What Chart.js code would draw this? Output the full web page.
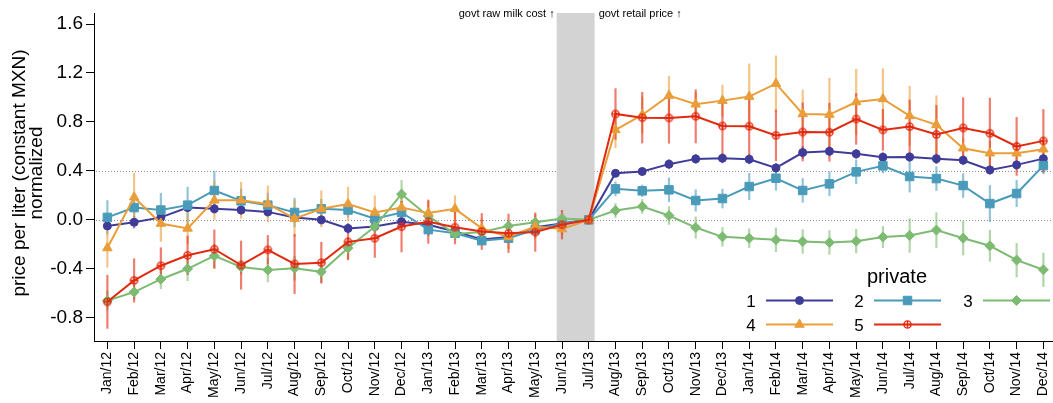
<!DOCTYPE html>
<html>
<head>
<meta charset="utf-8">
<script src="https://cdn.jsdelivr.net/npm/chart.js@4/dist/chart.umd.min.js"></script>
<style>
  html, body { margin: 0; padding: 0; background: #fff; }
  canvas { display: block; }
</style>
</head>
<body>
<canvas id="c" width="1053" height="403"></canvas>
<script>
// Monthly normalized milk price per liter (constant MXN), by private brand
const months = [
  'Jan/12','Feb/12','Mar/12','Apr/12','May/12','Jun/12','Jul/12','Aug/12','Sep/12','Oct/12','Nov/12','Dec/12',
  'Jan/13','Feb/13','Mar/13','Apr/13','May/13','Jun/13','Jul/13','Aug/13','Sep/13','Oct/13','Nov/13','Dec/13',
  'Jan/14','Feb/14','Mar/14','Apr/14','May/14','Jun/14','Jul/14','Aug/14','Sep/14','Oct/14','Nov/14','Dec/14'
];
const yTicks = [-0.8, -0.4, 0.0, 0.4, 0.8, 1.2, 1.6];
const refLines = [0.0, 0.4];
const seriesNames = ['1', '2', '3', '4', '5'];
const legendTitle = 'private';
const yTitle = ['price per liter (constant MXN)', 'normalized'];
const bandLabels = ['govt raw milk cost \u2191', 'govt retail price \u2191'];

const private1 = [-0.05,-0.02,0.02,0.10,0.09,0.08,0.065,0.02,0.00,-0.07,-0.055,-0.015,
  -0.04,-0.095,-0.16,-0.14,-0.06,-0.03,0.0,0.38,0.395,0.455,0.498,0.503,
  0.495,0.424,0.55,0.56,0.539,0.512,0.514,0.50,0.487,0.408,0.449,0.50];
const private2 = [0.02,0.10,0.08,0.12,0.24,0.155,0.12,0.06,0.09,0.08,0.01,0.06,
  -0.08,-0.11,-0.17,-0.15,-0.08,-0.03,0.0,0.253,0.237,0.245,0.158,0.174,
  0.272,0.34,0.24,0.294,0.392,0.441,0.354,0.337,0.28,0.133,0.215,0.443];
const private3 = [-0.66,-0.59,-0.485,-0.40,-0.295,-0.385,-0.41,-0.395,-0.425,-0.23,-0.055,0.21,
  0.03,-0.115,-0.10,-0.05,-0.02,0.01,0.0,0.076,0.109,0.035,-0.063,-0.139,
  -0.15,-0.163,-0.177,-0.185,-0.174,-0.141,-0.128,-0.084,-0.15,-0.212,-0.329,-0.408];
const private4 = [-0.23,0.185,-0.03,-0.07,0.16,0.16,0.13,0.01,0.09,0.13,0.06,0.10,
  0.055,0.09,-0.07,-0.14,-0.055,-0.075,0.0,0.735,0.857,1.015,0.944,0.974,
  1.007,1.113,0.865,0.86,0.963,0.988,0.849,0.776,0.585,0.544,0.544,0.577];
const private5 = [-0.67,-0.495,-0.375,-0.29,-0.24,-0.37,-0.245,-0.36,-0.35,-0.18,-0.15,-0.055,
  -0.015,-0.06,-0.095,-0.11,-0.10,-0.04,0.0,0.865,0.835,0.833,0.846,0.767,
  0.765,0.69,0.718,0.716,0.824,0.735,0.762,0.697,0.751,0.707,0.60,0.645];

// half-width of the confidence interval around each monthly value
const err1 = [0.03,0.05,0.04,0.03,0.04,0.04,0.04,0.04,0.04,0.04,0.04,0.03,
  0.03,0.03,0.03,0.03,0.03,0.02,0,0.03,0.03,0.04,0.04,0.04,
  0.04,0.04,0.05,0.04,0.04,0.04,0.04,0.04,0.04,0.04,0.04,0.04];
const err2 = [0.14,0.08,0.14,0.15,0.16,0.10,0.10,0.12,0.08,0.06,0.06,0.07,
  0.05,0.04,0.04,0.04,0.04,0.03,0,0.06,0.05,0.10,0.09,0.08,
  0.11,0.10,0.10,0.10,0.10,0.06,0.13,0.10,0.10,0.15,0.11,0.07];
const err3 = [0.08,0.06,0.08,0.10,0.10,0.06,0.10,0.10,0.09,0.09,0.05,0.115,
  0.06,0.05,0.05,0.04,0.04,0.03,0,0.06,0.06,0.075,0.09,0.08,
  0.08,0.10,0.10,0.10,0.10,0.09,0.14,0.145,0.14,0.13,0.14,0.14];
const err4 = [0.16,0.20,0.15,0.13,0.16,0.15,0.15,0.15,0.15,0.14,0.14,0.15,
  0.10,0.11,0.08,0.10,0.10,0.05,0,0.15,0.15,0.16,0.10,0.13,
  0.27,0.23,0.20,0.30,0.27,0.25,0.245,0.24,0.08,0.10,0.10,0.10];
const err5 = [0.22,0.18,0.15,0.16,0.16,0.20,0.12,0.245,0.17,0.15,0.16,0.21,
  0.18,0.14,0.15,0.16,0.16,0.12,0,0.21,0.21,0.21,0.22,0.24,
  0.24,0.21,0.24,0.24,0.21,0.17,0.22,0.24,0.25,0.29,0.24,0.26];

// shaded window between the two policy changes (in month-index units)
const bandStart = 16.8;
const bandEnd = 18.22;

const FONT = '"Liberation Sans", Arial, Helvetica, sans-serif';

function rgba(hex, a) {
  const n = parseInt(hex.slice(1), 16);
  return `rgba(${(n >> 16) & 255},${(n >> 8) & 255},${n & 255},${a})`;
}

// open circle with a cross inside
function circlePlus(color, r, lw) {
  const size = Math.ceil(2 * r + lw + 2);
  const cv = document.createElement('canvas');
  cv.width = size; cv.height = size;
  const g = cv.getContext('2d');
  const c = size / 2;
  g.strokeStyle = color; g.lineWidth = lw;
  g.beginPath(); g.arc(c, c, r, 0, Math.PI * 2); g.stroke();
  g.beginPath();
  g.moveTo(c - r, c); g.lineTo(c + r, c);
  g.moveTo(c, c - r); g.lineTo(c, c + r);
  g.stroke();
  return cv;
}

const colors = ['#3F3C99', '#4A9BBA', '#7DBB72', '#E99E3A', '#E22A10'];
const series = [
  { values: private1, err: err1, style: 'circle',   radius: 4 },
  { values: private2, err: err2, style: 'rect',     radius: 6 },
  { values: private3, err: err3, style: 'rectRot',  radius: 5 },
  { values: private4, err: err4, style: 'triangle', radius: 5.5 },
  { values: private5, err: err5, style: circlePlus(colors[4], 3.6, 1.4), radius: 4 }
];

const datasets = series.map((s, i) => ({
  label: seriesNames[i],
  data: s.values.map((v, k) => ({ x: k, y: v })),
  borderColor: colors[i],
  backgroundColor: colors[i],
  borderWidth: 2,
  pointStyle: s.style,
  pointRadius: s.radius,
  pointBorderWidth: 1,
  pointBorderColor: colors[i],
  pointBackgroundColor: colors[i],
  tension: 0,
  fill: false,
  order: series.length - i
}));

const decorations = {
  id: 'decorations',
  beforeDatasetsDraw(chart) {
    const { ctx, chartArea, scales: { x, y } } = chart;
    ctx.save();
    // dotted reference lines
    ctx.setLineDash([1, 2]);
    ctx.strokeStyle = '#8a8a8a';
    ctx.lineWidth = 1;
    refLines.forEach(v => {
      const py = Math.round(y.getPixelForValue(v)) + 0.5;
      ctx.beginPath();
      ctx.moveTo(chartArea.left + 2, py);
      ctx.lineTo(chartArea.right, py);
      ctx.stroke();
    });
    ctx.setLineDash([]);
    // shaded policy window
    const bx0 = x.getPixelForValue(bandStart);
    const bx1 = x.getPixelForValue(bandEnd);
    ctx.fillStyle = '#D3D3D3';
    ctx.fillRect(bx0, chartArea.top, bx1 - bx0, chartArea.bottom - chartArea.top);
    // error bars
    series.forEach((s, i) => {
      ctx.strokeStyle = rgba(colors[i], 0.6);
      ctx.lineWidth = 2.2;
      s.values.forEach((v, k) => {
        const e = s.err[k];
        if (!e) return;
        const px = x.getPixelForValue(k);
        ctx.beginPath();
        ctx.moveTo(px, y.getPixelForValue(v - e));
        ctx.lineTo(px, y.getPixelForValue(v + e));
        ctx.stroke();
      });
    });
    ctx.restore();
  },
  afterDraw(chart) {
    const { ctx, scales: { x } } = chart;
    ctx.save();
    ctx.fillStyle = '#000';
    // labels beside the shaded window
    ctx.font = `11px ${FONT}`;
    ctx.textBaseline = 'alphabetic';
    const bx0 = x.getPixelForValue(bandStart);
    const bx1 = x.getPixelForValue(bandEnd);
    ctx.textAlign = 'right';
    ctx.fillText(bandLabels[0], bx0 - 2, 17);
    ctx.textAlign = 'left';
    ctx.fillText(bandLabels[1], bx1 + 4, 17);

    // y-axis title
    ctx.save();
    ctx.translate(0, 173);
    ctx.rotate(-Math.PI / 2);
    ctx.font = `19px ${FONT}`;
    ctx.textAlign = 'center';
    ctx.textBaseline = 'alphabetic';
    ctx.fillText(yTitle[0], 0, 25);
    ctx.fillText(yTitle[1], 0, 42);
    ctx.restore();

    // legend
    ctx.textAlign = 'center';
    ctx.textBaseline = 'middle';
    ctx.font = `20px ${FONT}`;
    ctx.fillText(legendTitle, 897, 277);
    const cols = [751, 859, 968];
    const rows = [301, 325];
    ctx.font = `17px ${FONT}`;
    series.forEach((s, i) => {
      const cx = cols[i % 3], cy = rows[Math.floor(i / 3)];
      ctx.fillStyle = '#000';
      ctx.textAlign = 'center';
      ctx.fillText(seriesNames[i], cx, cy + 1);
      const lx0 = cx + 15, lx1 = cx + 82, ly = cy - 0.5;
      ctx.strokeStyle = colors[i];
      ctx.fillStyle = colors[i];
      ctx.lineWidth = 2;
      ctx.beginPath();
      ctx.moveTo(lx0, ly); ctx.lineTo(lx1, ly);
      ctx.stroke();
      ctx.lineWidth = 1;
      Chart.helpers.drawPoint(ctx, {
        pointStyle: s.style,
        radius: s.radius,
        borderWidth: 1,
        rotation: 0
      }, (lx0 + lx1) / 2, ly);
    });
    ctx.restore();
  }
};

Chart.defaults.font.family = FONT;
Chart.defaults.color = '#000';

new Chart(document.getElementById('c'), {
  type: 'line',
  data: { datasets },
  options: {
    responsive: false,
    animation: false,
    devicePixelRatio: 1,
    layout: { autoPadding: false, padding: { top: 13, left: 0, right: 0, bottom: 0 } },
    plugins: { legend: { display: false }, tooltip: { enabled: false } },
    scales: {
      x: {
        type: 'linear',
        min: -0.5,
        max: 35.36,
        afterBuildTicks(scale) {
          scale.ticks = months.map((m, k) => ({ value: k }));
        },
        afterFit(scale) {
          scale.height = 62;
          scale.paddingLeft = 0;
          scale.paddingRight = 0;
        },
        ticks: {
          autoSkip: false,
          minRotation: 90,
          maxRotation: 90,
          padding: 3,
          font: { size: 14 },
          color: '#000',
          callback: v => months[v]
        },
        grid: {
          display: true,
          drawOnChartArea: false,
          drawTicks: true,
          tickLength: 8,
          tickColor: '#000',
          tickWidth: 1
        },
        border: { display: true, color: '#000', width: 1 }
      },
      y: {
        type: 'linear',
        min: -0.99,
        max: 1.69,
        afterBuildTicks(scale) {
          scale.ticks = yTicks.map(v => ({ value: v }));
        },
        afterFit(scale) {
          scale.width = 94;
          scale.paddingTop = 0;
          scale.paddingBottom = 0;
        },
        ticks: {
          padding: 3,
          font: { size: 19 },
          color: '#000',
          callback: v => v.toFixed(1)
        },
        grid: {
          display: true,
          drawOnChartArea: false,
          drawTicks: true,
          tickLength: 8,
          tickColor: '#000',
          tickWidth: 1
        },
        border: { display: true, color: '#000', width: 1 }
      }
    }
  },
  plugins: [decorations]
});
</script>
</body>
</html>
